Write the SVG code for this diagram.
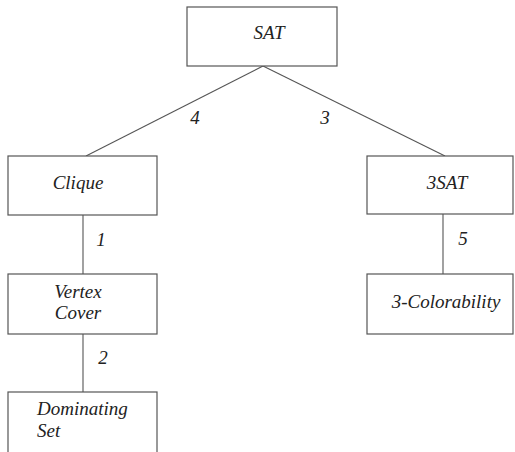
<svg xmlns="http://www.w3.org/2000/svg" width="515" height="452" viewBox="0 0 515 452">
<style>
.box{fill:#fff;stroke:#555;stroke-width:1.2}
.edge{stroke:#555;stroke-width:1.1;fill:none}
.t{font-family:"Liberation Serif",serif;font-style:italic;font-size:19px;fill:#222}
.c{text-anchor:middle}
</style>
<rect width="515" height="452" fill="#fff"/>
<g id="connectors">
<line class="edge" x1="263" y1="66" x2="86" y2="156"/>
<line class="edge" x1="263" y1="66" x2="445" y2="156"/>
<line class="edge" x1="83" y1="215" x2="83" y2="274"/>
<line class="edge" x1="83" y1="334" x2="83" y2="392"/>
<line class="edge" x1="443" y1="214" x2="443" y2="274"/>
<text x="195" y="124" class="t c">4</text>
<text x="325" y="124" class="t c">3</text>
<text x="101" y="246" class="t c">1</text>
<text x="103" y="364" class="t c">2</text>
<text x="463" y="245" class="t c">5</text>
</g>
<g id="sat"><rect class="box" x="187" y="7" width="150" height="59"/><text x="269" y="39" class="t c">SAT</text></g>
<g id="clique"><rect class="box" x="8" y="156" width="149" height="59"/><text x="78" y="189" class="t c">Clique</text></g>
<g id="vertexcover"><rect class="box" x="8" y="274" width="149" height="60"/><text x="78" y="298" class="t c">Vertex</text><text x="78" y="319" class="t c">Cover</text></g>
<g id="dominatingset"><rect class="box" x="8" y="392" width="149" height="70"/><text x="37" y="415" class="t">Dominating</text><text x="37" y="437" class="t">Set</text></g>
<g id="threesat"><rect class="box" x="367" y="156" width="146" height="58"/><text x="447" y="189" class="t c">3SAT</text></g>
<g id="colorability"><rect class="box" x="367" y="274" width="146" height="60"/><text x="446" y="308" class="t c">3-Colorability</text></g>
</svg>
